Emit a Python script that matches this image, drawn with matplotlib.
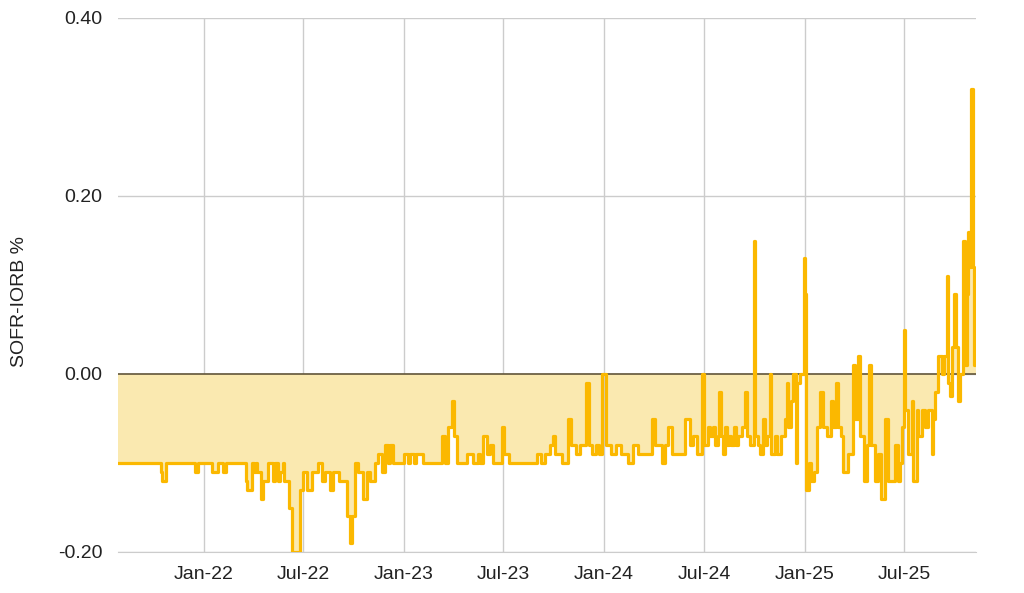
import matplotlib

matplotlib.use("Agg")
import matplotlib.dates as mdates
import matplotlib.pyplot as plt
import pandas as pd
from matplotlib.ticker import FuncFormatter

# SOFR minus IORB, in percentage points; each value holds until the next date
obs_dates = [
    "2021-07-29", "2021-10-15", "2021-10-17", "2021-10-24", "2021-12-16", "2021-12-21",
    "2022-01-17", "2022-01-28", "2022-02-06", "2022-02-10", "2022-03-20", "2022-03-22",
    "2022-03-31", "2022-04-03", "2022-04-06", "2022-04-09", "2022-04-15", "2022-04-20",
    "2022-04-29", "2022-05-07", "2022-05-12", "2022-05-17", "2022-05-21", "2022-05-25",
    "2022-05-27", "2022-06-05", "2022-06-12", "2022-06-26", "2022-07-02", "2022-07-09",
    "2022-07-18", "2022-07-29", "2022-08-05", "2022-08-11", "2022-08-20", "2022-08-25",
    "2022-09-04", "2022-09-20", "2022-09-25", "2022-09-29", "2022-10-04", "2022-10-10",
    "2022-10-19", "2022-10-26", "2022-11-01", "2022-11-10", "2022-11-15", "2022-11-23",
    "2022-11-28", "2022-12-04", "2022-12-07", "2022-12-13",
    "2023-01-01", "2023-01-09", "2023-01-12", "2023-01-20", "2023-01-24", "2023-02-05",
    "2023-03-12", "2023-03-17", "2023-03-23", "2023-03-30", "2023-04-03", "2023-04-08",
    "2023-04-26", "2023-05-07", "2023-05-16", "2023-05-19", "2023-05-25", "2023-06-02",
    "2023-06-07", "2023-06-13", "2023-06-29", "2023-07-03", "2023-07-12", "2023-09-01",
    "2023-09-08", "2023-09-15", "2023-09-24", "2023-09-30", "2023-10-03", "2023-10-16",
    "2023-10-27", "2023-11-01", "2023-11-11", "2023-11-18", "2023-11-29", "2023-12-04",
    "2023-12-10", "2023-12-17", "2023-12-22", "2023-12-29",
    "2024-01-05", "2024-01-13", "2024-01-22", "2024-01-31", "2024-02-13", "2024-02-23",
    "2024-03-02", "2024-03-29", "2024-04-03", "2024-04-16", "2024-04-22", "2024-04-27",
    "2024-05-04", "2024-05-28", "2024-06-06", "2024-06-12", "2024-06-19", "2024-06-28",
    "2024-07-02", "2024-07-09", "2024-07-13", "2024-07-18", "2024-07-22", "2024-07-27",
    "2024-07-29", "2024-08-01", "2024-08-04", "2024-08-09", "2024-08-12", "2024-08-15",
    "2024-08-20", "2024-08-24", "2024-08-28", "2024-09-02", "2024-09-08", "2024-09-14",
    "2024-09-17", "2024-09-23", "2024-09-30", "2024-10-02", "2024-10-07", "2024-10-11",
    "2024-10-17", "2024-10-20", "2024-10-24", "2024-10-29", "2024-11-01", "2024-11-07",
    "2024-11-11", "2024-11-18", "2024-11-25", "2024-11-29", "2024-12-02", "2024-12-06",
    "2024-12-10", "2024-12-15", "2024-12-18", "2024-12-24", "2024-12-31",
    "2025-01-02", "2025-01-04", "2025-01-08", "2025-01-13", "2025-01-17", "2025-01-24",
    "2025-01-29", "2025-02-04", "2025-02-11", "2025-02-17", "2025-02-22", "2025-02-26",
    "2025-03-03", "2025-03-08", "2025-03-12", "2025-03-21", "2025-03-29", "2025-04-03",
    "2025-04-08", "2025-04-12", "2025-04-18", "2025-04-25", "2025-04-28", "2025-05-02",
    "2025-05-09", "2025-05-15", "2025-05-20", "2025-05-28", "2025-06-02", "2025-06-15",
    "2025-06-20", "2025-06-24", "2025-06-27", "2025-06-30", "2025-07-02", "2025-07-08",
    "2025-07-15", "2025-07-17", "2025-07-24", "2025-07-26", "2025-08-02", "2025-08-08",
    "2025-08-14", "2025-08-21", "2025-08-23", "2025-08-27", "2025-09-01", "2025-09-08",
    "2025-09-12", "2025-09-17", "2025-09-19", "2025-09-23", "2025-09-26", "2025-09-30",
    "2025-10-04", "2025-10-07", "2025-10-11", "2025-10-16", "2025-10-20", "2025-10-24",
    "2025-10-26", "2025-10-29", "2025-10-31", "2025-11-03", "2025-11-04", "2025-11-06",
    "2025-11-09",
]
spread = [
    -0.10, -0.11, -0.12, -0.10, -0.11, -0.10,
    -0.11, -0.10, -0.11, -0.10, -0.12, -0.13,
    -0.10, -0.11, -0.10, -0.11, -0.14, -0.12,
    -0.10, -0.12, -0.10, -0.12, -0.11, -0.10,
    -0.12, -0.15, -0.20, -0.13, -0.11, -0.13,
    -0.11, -0.10, -0.12, -0.11, -0.13, -0.11,
    -0.12, -0.16, -0.19, -0.16, -0.10, -0.11,
    -0.14, -0.11, -0.12, -0.10, -0.09, -0.11,
    -0.08, -0.10, -0.08, -0.10,
    -0.09, -0.10, -0.09, -0.10, -0.09, -0.10,
    -0.07, -0.10, -0.06, -0.03, -0.07, -0.10,
    -0.09, -0.10, -0.09, -0.10, -0.07, -0.09,
    -0.08, -0.10, -0.06, -0.09, -0.10, -0.09,
    -0.10, -0.09, -0.08, -0.07, -0.09, -0.10,
    -0.05, -0.08, -0.09, -0.08, -0.01, -0.08,
    -0.09, -0.08, -0.09, 0.00,
    -0.08, -0.09, -0.08, -0.09, -0.10, -0.08,
    -0.09, -0.05, -0.08, -0.10, -0.08, -0.06,
    -0.09, -0.05, -0.08, -0.07, -0.09, 0.00,
    -0.08, -0.06, -0.07, -0.06, -0.08, -0.07,
    -0.02, -0.07, -0.09, -0.06, -0.08, -0.07,
    -0.08, -0.06, -0.08, -0.07, -0.06, -0.02,
    -0.07, -0.08, 0.15, -0.07, -0.08, -0.09,
    -0.05, -0.08, -0.07, 0.00, -0.09, -0.07,
    -0.09, -0.07, -0.05, -0.01, -0.06, -0.03,
    0.00, -0.10, -0.01, 0.00, 0.13,
    0.09, -0.13, -0.10, -0.12, -0.11, -0.06,
    -0.02, -0.06, -0.07, -0.03, -0.06, -0.01,
    -0.06, -0.07, -0.11, -0.09, 0.01, -0.05,
    0.02, -0.07, -0.12, -0.08, 0.01, -0.08,
    -0.12, -0.09, -0.14, -0.05, -0.12, -0.08,
    -0.12, -0.10, -0.06, 0.05, -0.04, -0.09,
    -0.03, -0.12, -0.04, -0.07, -0.04, -0.06,
    -0.04, -0.09, -0.05, -0.02, 0.02, 0.00,
    0.02, 0.11, -0.01, -0.025, 0.03, 0.09,
    0.03, -0.03, 0.00, 0.15, 0.01, 0.09,
    0.16, 0.12, 0.32, 0.21, 0.12, 0.01,
    0.01,
]

x_ticks = ["2022-01-01", "2022-07-01", "2023-01-01", "2023-07-01",
           "2024-01-01", "2024-07-01", "2025-01-01", "2025-07-01"]
y_ticks = [-0.20, 0.00, 0.20, 0.40]

LINE = "#FBB800"
FILL = "#FAE9B0"
ZERO = "#62563A"
GRID = "#CCCCCC"

plt.rcParams["font.family"] = ["Liberation Sans", "DejaVu Sans"]

fig = plt.figure(figsize=(10.24, 5.93), dpi=100)
ax = fig.add_axes([118 / 1024, 1 - 552 / 593, (976 - 118) / 1024, (552 - 18) / 593])

x = pd.to_datetime(obs_dates)
ax.fill_between(x, spread, 0, step="post", color=FILL, linewidth=0, zorder=1)
ax.axhline(0, color=ZERO, lw=1.2, zorder=2)
ax.plot(x, spread, drawstyle="steps-post", color=LINE, lw=2.3, zorder=3)

ax.set_xlim(x[0], x[-1])
ax.set_ylim(-0.20, 0.40)
ax.set_yticks(y_ticks)
ax.yaxis.set_major_formatter(FuncFormatter(lambda v, _: f"{v:.2f}"))
ax.set_xticks(pd.to_datetime(x_ticks))
ax.xaxis.set_major_formatter(mdates.DateFormatter("%b-%y"))

ax.grid(True, color=GRID, lw=1)
ax.set_axisbelow(True)
for side in ["left", "top", "right"]:
    ax.spines[side].set_visible(False)
ax.spines["bottom"].set_color(GRID)
ax.tick_params(axis="both", length=0, labelsize=14, colors="#222222")
ax.tick_params(axis="y", pad=11)
ax.tick_params(axis="x", pad=10)

ax.set_ylabel("SOFR-IORB %", fontsize=14, color="#222222")
ax.yaxis.set_label_coords(-0.105, 0.47)

fig.savefig("out.png", dpi=100)
plt.close(fig)
